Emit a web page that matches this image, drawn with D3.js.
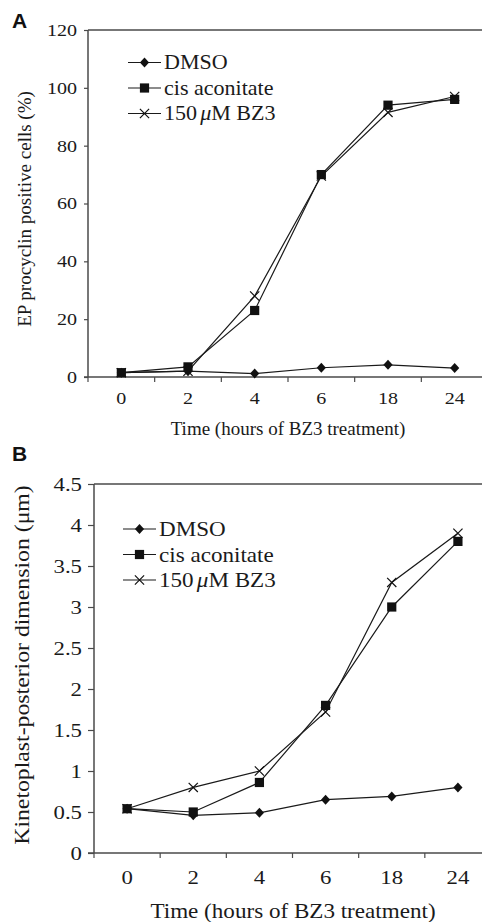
<!DOCTYPE html>
<html>
<head>
<meta charset="utf-8">
<script src="https://cdn.jsdelivr.net/npm/d3@7"></script>
<style>
  html, body { margin: 0; padding: 0; background: #fff; }
  svg { display: block; }
</style>
</head>
<body>
<svg id="chart" width="482" height="922"></svg>
<script>
// ---- data ----
const categories = ["0", "2", "4", "6", "18", "24"];
const seriesNames = ["DMSO", "cis aconitate", "150\u03BCM BZ3"];
const markerTypes = ["diamond", "square", "cross"];

// Panel A: EP procyclin positive cells (%)
const dmsoA = [1.5, 2, 1.2, 3.2, 4.2, 3.1];
const cisA  = [1.5, 3.5, 23, 70, 94, 96];
const bz3A  = [1.5, 2, 28, 69.5, 91.5, 97];
const yTicksA = [0, 20, 40, 60, 80, 100, 120];

// Panel B: Kinetoplast-posterior dimension (µm)
const dmsoB = [0.54, 0.46, 0.49, 0.65, 0.69, 0.80];
const cisB  = [0.54, 0.50, 0.86, 1.80, 3.00, 3.80];
const bz3B  = [0.54, 0.80, 1.00, 1.72, 3.30, 3.90];
const yTicksB = [0, 0.5, 1, 1.5, 2, 2.5, 3, 3.5, 4, 4.5];

const xTitle = "Time (hours of BZ3 treatment)";
const yTitleA = "EP procyclin positive cells (%)";
const yTitleB = "Kinetoplast-posterior dimension (\u03BCm)";

const SERIF = '"Liberation Serif", "Times New Roman", serif';
const SANS = '"Liberation Sans", Arial, sans-serif';
const svg = d3.select("#chart");

function marker(g, type, x, y) {
  if (type === "diamond") {
    g.append("path")
      .attr("d", `M${x},${y - 5}L${x + 4.6},${y}L${x},${y + 5}L${x - 4.6},${y}Z`)
      .attr("fill", "#111");
  } else if (type === "square") {
    g.append("rect").attr("x", x - 4.6).attr("y", y - 4.6)
      .attr("width", 9.2).attr("height", 9.2).attr("fill", "#111");
  } else {
    g.append("path")
      .attr("d", `M${x - 4.6},${y - 4.6}L${x + 4.6},${y + 4.6}M${x - 4.6},${y + 4.6}L${x + 4.6},${y - 4.6}`)
      .attr("stroke", "#111").attr("stroke-width", 1.2).attr("fill", "none");
  }
}

function panel(cfg) {
  const g = svg.append("g");
  const x = d3.scaleBand().domain(categories).range([cfg.x0, cfg.x1]).padding(0);
  const y = d3.scaleLinear().domain(cfg.domain).range([cfg.yBottom, cfg.yTop]);
  const axisColor = "#4a4a4a";

  // frame: left axis, bottom axis, top border
  g.append("line").attr("x1", cfg.x0).attr("x2", cfg.x1 + 2)
    .attr("y1", cfg.yTop).attr("y2", cfg.yTop)
    .attr("stroke", axisColor).attr("stroke-width", 1.3);
  g.append("line").attr("x1", cfg.x0 - cfg.ytick).attr("x2", cfg.x1 + 2)
    .attr("y1", cfg.yBottom).attr("y2", cfg.yBottom)
    .attr("stroke", axisColor).attr("stroke-width", 1.5);
  g.append("line").attr("x1", cfg.x0).attr("x2", cfg.x0)
    .attr("y1", cfg.yTop).attr("y2", cfg.yBottom)
    .attr("stroke", axisColor).attr("stroke-width", 1.5);

  // y axis ticks + labels
  const yAxis = d3.axisLeft(y).tickValues(cfg.yTicks).tickSize(cfg.ytick)
    .tickSizeOuter(0).tickPadding(cfg.ypad).tickFormat(d3.format(""));
  const ya = g.append("g").attr("transform", `translate(${cfg.x0},0)`).call(yAxis);
  ya.select(".domain").remove();
  ya.selectAll("line").attr("stroke", axisColor).attr("stroke-width", 1.2);
  ya.selectAll("text")
    .style("font-family", SERIF).style("font-size", cfg.tickFont + "px").attr("fill", "#1a1a1a")
    .attr("x", -(cfg.ytick + cfg.ypad) / cfg.tickScale)
    .attr("transform", `scale(${cfg.tickScale},1)`);

  // x axis: labels at band centers, ticks at band boundaries
  const xAxis = d3.axisBottom(x).tickSize(0).tickPadding(cfg.xpad);
  const xa = g.append("g").attr("transform", `translate(0,${cfg.yBottom})`).call(xAxis);
  xa.select(".domain").remove();
  xa.selectAll("text")
    .style("font-family", SERIF).style("font-size", cfg.tickFont + "px").attr("fill", "#1a1a1a")
    .attr("transform", `scale(${cfg.tickScale},1)`);
  const bounds = categories.map(c => x(c));
  g.selectAll(".xb").data(bounds).enter().append("line")
    .attr("x1", d => d).attr("x2", d => d)
    .attr("y1", cfg.yBottom).attr("y2", cfg.yBottom + 5)
    .attr("stroke", axisColor).attr("stroke-width", 1.2);

  // titles
  g.append("text")
    .attr("transform", `translate(${cfg.xTitleX},${cfg.xTitleY}) scale(${cfg.xTitleScale},1)`)
    .attr("text-anchor", "middle").style("font-family", SERIF)
    .style("font-size", cfg.titleFont + "px").attr("fill", "#1a1a1a").text(xTitle);
  g.append("text")
    .attr("transform", `translate(${cfg.yTitleX},${cfg.yTitleC}) rotate(-90) scale(${cfg.yTitleScale},1)`)
    .attr("text-anchor", "middle").style("font-family", SERIF)
    .style("font-size", cfg.yTitleFont + "px").attr("fill", "#1a1a1a").text(cfg.yTitle);
  // panel letter
  g.append("text").attr("x", 12).attr("y", cfg.letterY)
    .style("font-family", SANS).style("font-weight", "bold")
    .style("font-size", "21px").attr("fill", "#111").text(cfg.letter);

  // series
  const cx = c => x(c) + x.bandwidth() / 2;
  const line = d3.line().x((d, i) => cx(categories[i])).y(d => y(d));
  cfg.series.forEach(vals => {
    g.append("path").datum(vals).attr("d", line)
      .attr("fill", "none").attr("stroke", "#1a1a1a").attr("stroke-width", 1.2);
  });
  cfg.series.forEach((vals, si) => {
    const mg = g.append("g");
    vals.forEach((v, i) => marker(mg, markerTypes[si], cx(categories[i]), y(v)));
  });

  // legend
  seriesNames.forEach((name, i) => {
    const ly = cfg.legendY + i * cfg.legendGap;
    g.append("line").attr("x1", cfg.legendX).attr("x2", cfg.legendX + 33)
      .attr("y1", ly).attr("y2", ly).attr("stroke", "#1a1a1a").attr("stroke-width", 1.2);
    marker(g, markerTypes[i], cfg.legendX + 16.5, ly);
    const t = g.append("text")
      .attr("transform", `translate(${cfg.legendX + 36},${ly}) scale(${cfg.legendScale},1)`)
      .attr("dy", "0.33em").style("font-family", SERIF)
      .style("font-size", cfg.legendFont + "px").attr("fill", "#1a1a1a");
    if (name.indexOf("\u03BC") >= 0) {
      const parts = name.split("\u03BC");
      t.append("tspan").text(parts[0]);
      t.append("tspan").attr("dx", 3).style("font-style", "italic").text("\u03BC");
      t.append("tspan").text(parts[1]);
    } else {
      t.text(name);
    }
  });
}

panel({
  letter: "A", letterY: 28,
  x0: 88, x1: 488, yTop: 30, yBottom: 377, domain: [0, 120], yTicks: yTicksA,
  ytick: 4, ypad: 7, xpad: 15, tickFont: 17, tickScale: 1.18,
  titleFont: 19, xTitleScale: 1.0, xTitleX: 288, xTitleY: 435,
  yTitle: yTitleA, yTitleFont: 19, yTitleScale: 1.0, yTitleX: 31, yTitleC: 209,
  legendX: 128, legendY: 62.5, legendGap: 25.5, legendFont: 21, legendScale: 1.05,
  series: [dmsoA, cisA, bz3A]
});

panel({
  letter: "B", letterY: 461,
  x0: 94, x1: 491, yTop: 484, yBottom: 853, domain: [0, 4.5], yTicks: yTicksB,
  ytick: 6, ypad: 6, xpad: 18, tickFont: 19, tickScale: 1.2,
  titleFont: 21, xTitleScale: 1.1, xTitleX: 293, xTitleY: 918,
  yTitle: yTitleB, yTitleFont: 22, yTitleScale: 1.08, yTitleX: 29, yTitleC: 665,
  legendX: 123, legendY: 529, legendGap: 25.5, legendFont: 22, legendScale: 1.05,
  series: [dmsoB, cisB, bz3B]
});
</script>
</body>
</html>
